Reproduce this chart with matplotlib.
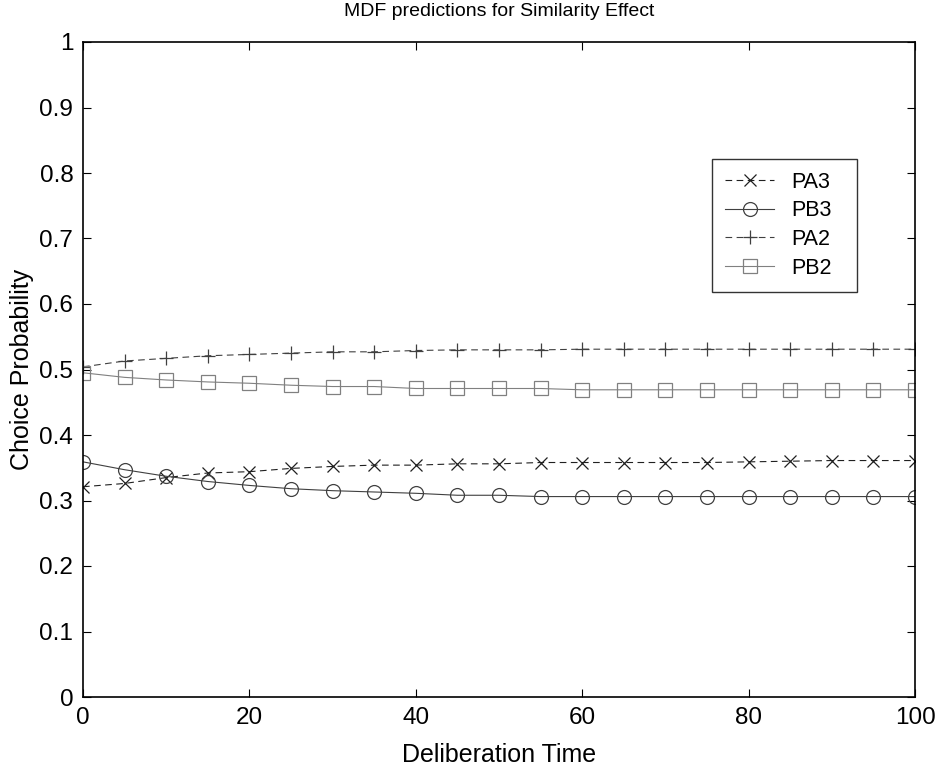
import matplotlib
matplotlib.use("Agg")
import matplotlib.pyplot as plt
import numpy as np

plt.rcParams['font.family'] = ['Liberation Sans', 'DejaVu Sans']

time = list(range(0, 101, 5))
PA3 = [0.321, 0.326, 0.335, 0.342, 0.344, 0.349, 0.352, 0.354, 0.354, 0.356, 0.356,
       0.358, 0.358, 0.358, 0.358, 0.358, 0.359, 0.360, 0.361, 0.361, 0.361]
PB3 = [0.359, 0.347, 0.337, 0.329, 0.323, 0.318, 0.315, 0.313, 0.311, 0.308, 0.308,
       0.306, 0.306, 0.306, 0.306, 0.306, 0.306, 0.306, 0.306, 0.306, 0.306]
PA2 = [0.504, 0.513, 0.517, 0.521, 0.523, 0.525, 0.527, 0.527, 0.529, 0.530, 0.530,
       0.530, 0.531, 0.531, 0.531, 0.531, 0.531, 0.531, 0.531, 0.531, 0.531]
PB2 = [0.495, 0.488, 0.484, 0.481, 0.479, 0.476, 0.474, 0.474, 0.471, 0.471, 0.471,
       0.471, 0.469, 0.469, 0.469, 0.469, 0.469, 0.469, 0.469, 0.469, 0.469]

fig = plt.figure(figsize=(9.38, 7.66), dpi=100)
ax = fig.add_axes([83/938, 69/766, 832/938, 655/766])

dash = (0, (6, 4))
ax.plot(time, PA3, color='#202020', linestyle=dash, lw=0.8, marker='x', ms=8, mew=0.9, label='PA3')
ax.plot(time, PB3, color='#404040', linestyle='-', lw=0.8, marker='o', ms=10, mew=0.9,
        mfc='none', label='PB3')
ax.plot(time, PA2, color='#404040', linestyle=dash, lw=0.8, marker='+', ms=10, mew=0.9, label='PA2')
ax.plot(time, PB2, color='#808080', linestyle='-', lw=0.8, marker='s', ms=9.5, mew=0.9,
        mfc='none', label='PB2')

ax.set_xlim(0, 100)
ax.set_ylim(0, 1)
ax.set_xticks(np.arange(0, 101, 20))
ax.set_yticks(np.arange(0, 1.01, 0.1))
ax.set_yticklabels(['0', '0.1', '0.2', '0.3', '0.4', '0.5', '0.6', '0.7', '0.8', '0.9', '1'])
ax.tick_params(direction='in', length=6, width=0.8, labelsize=17.5, top=True, right=True,
               colors='#000000', pad=7)
for s in ax.spines.values():
    s.set_linewidth(1.2)
ax.set_xlabel('Deliberation Time', fontsize=18, labelpad=10)
ax.set_ylabel('Choice Probability', fontsize=18, labelpad=4)
ax.set_title('MDF predictions for Similarity Effect', fontsize=14, pad=19)

leg = ax.legend(loc='upper left', bbox_to_anchor=(0.756, 0.631, 0.174, 0.191), mode='expand',
                fontsize=15.5, frameon=True,
                fancybox=False, edgecolor='black', handlelength=2.3, borderpad=0.6,
                labelspacing=0.36, handletextpad=0.8, borderaxespad=0)
leg.get_frame().set_linewidth(1.0)

fig.savefig('out.png', dpi=100)
